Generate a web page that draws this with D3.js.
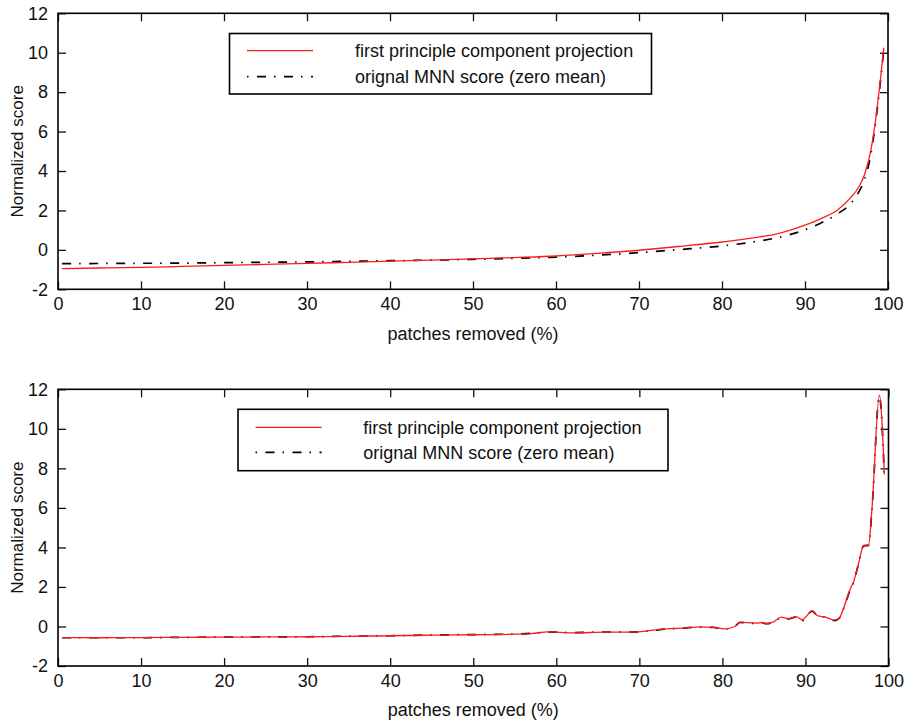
<!DOCTYPE html>
<html>
<head>
<meta charset="utf-8">
<script src="https://cdn.jsdelivr.net/npm/d3@7"></script>
<style>
  html, body { margin: 0; padding: 0; background: #fff; }
  svg { display: block; }
  text { font-family: "Liberation Sans", Arial, Helvetica, sans-serif; fill: #111; }
</style>
</head>
<body>
<svg id="chart" width="908" height="721"></svg>
<script>
// ---------------- data ----------------
const xTicks = [0, 10, 20, 30, 40, 50, 60, 70, 80, 90, 100];
const yTicks = [-2, 0, 2, 4, 6, 8, 10, 12];
const legendLabels = ["first principle component projection", "orignal MNN score (zero mean)"];
const xLabel = "patches removed (%)";
const yLabel = "Normalized score";

// top panel
const topX   = [0.5, 5, 10, 15, 20, 25, 30, 35, 40, 45, 50, 55, 60, 65, 70, 75, 80, 84, 87, 90, 92, 94, 95.5, 96.5, 97.2, 98, 98.6, 99, 99.5];
const topPCA = [-0.95, -0.92, -0.89, -0.84, -0.79, -0.74, -0.69, -0.63, -0.57, -0.52, -0.46, -0.39, -0.31, -0.18, -0.02, 0.18, 0.40, 0.62, 0.85, 1.25, 1.60, 2.05, 2.65, 3.20, 3.85, 5.20, 6.90, 8.30, 10.25];
const topMNN = [-0.70, -0.69, -0.68, -0.67, -0.65, -0.63, -0.61, -0.58, -0.55, -0.52, -0.48, -0.43, -0.37, -0.27, -0.14, 0.02, 0.20, 0.42, 0.65, 1.02, 1.38, 1.85, 2.35, 2.95, 3.60, 5.00, 6.80, 8.20, 10.20];

// bottom panel
const botX   = [0.5, 5, 10, 15, 20, 25, 30, 35, 40, 45, 50, 55, 57, 59, 62, 66, 69, 71, 73.3, 75.3, 77.3, 78.9, 80.3, 81.5, 82.1, 82.9, 84.1, 84.7, 85.3, 86.1, 87.1, 87.9, 88.9, 89.6, 90.1, 90.8, 91.5, 92.3, 93.5, 94.1, 94.9, 95.4, 95.8, 96.4, 97.0, 97.6, 98.0, 98.9, 99.5];
const botPCA = [-0.56, -0.57, -0.56, -0.55, -0.54, -0.53, -0.52, -0.50, -0.47, -0.44, -0.42, -0.39, -0.36, -0.27, -0.32, -0.29, -0.29, -0.22, -0.12, -0.08, -0.02, -0.05, -0.12, 0.00, 0.22, 0.19, 0.17, 0.20, 0.15, 0.22, 0.47, 0.39, 0.50, 0.34, 0.51, 0.80, 0.53, 0.48, 0.32, 0.45, 1.30, 1.90, 2.27, 3.20, 4.10, 4.12, 5.90, 11.70, 7.70];
const botMNN = [-0.57, -0.57, -0.57, -0.55, -0.54, -0.53, -0.52, -0.49, -0.47, -0.43, -0.41, -0.38, -0.35, -0.28, -0.31, -0.28, -0.29, -0.23, -0.13, -0.08, -0.03, -0.05, -0.13, 0.00, 0.20, 0.18, 0.15, 0.19, 0.14, 0.21, 0.45, 0.38, 0.48, 0.28, 0.50, 0.78, 0.52, 0.47, 0.30, 0.43, 1.28, 1.88, 2.25, 3.18, 4.08, 4.10, 5.85, 11.65, 7.60];

// ---------------- drawing ----------------
const svg = d3.select("#chart");
const numFmt = d => (d < 0 ? "-" + Math.abs(d) : String(d));

function drawPanel(cfg) {
  const g = svg.append("g");
  const x = d3.scaleLinear().domain([0, 100]).range([cfg.left, cfg.right]);
  const y = d3.scaleLinear().domain([-2, 12]).range([cfg.bottom, cfg.top]);
  const tickLen = 8;

  const axB = d3.axisBottom(x).tickValues(xTicks).tickSize(-tickLen).tickFormat(numFmt);
  const axT = d3.axisTop(x).tickValues(xTicks).tickSize(-tickLen).tickFormat("");
  const axL = d3.axisLeft(y).tickValues(yTicks).tickSize(-tickLen).tickFormat(numFmt);
  const axR = d3.axisRight(y).tickValues(yTicks).tickSize(-tickLen).tickFormat("");

  const gb = g.append("g").attr("transform", `translate(0,${cfg.bottom})`).call(axB);
  const gt = g.append("g").attr("transform", `translate(0,${cfg.top})`).call(axT);
  const gl = g.append("g").attr("transform", `translate(${cfg.left},0)`).call(axL);
  const gr = g.append("g").attr("transform", `translate(${cfg.right},0)`).call(axR);
  [gb, gt, gl, gr].forEach(a => {
    a.select(".domain").remove();
    a.selectAll(".tick line").attr("stroke", "#111").attr("stroke-width", 1.3);
    a.selectAll(".tick text").attr("font-size", 18).attr("fill", "#111")
      .style("font-family", '"Liberation Sans", Arial, sans-serif');
  });
  gb.selectAll(".tick text").attr("y", 8).attr("dy", "0.71em");
  gl.selectAll(".tick text").attr("x", -10);

  const mk = (xs, ys) => xs.map((v, i) => [v, ys[i]]);
  const line = d3.line().x(d => x(d[0])).y(d => y(d[1])).curve(d3.curveMonotoneX);

  g.append("path").datum(mk(cfg.xs, cfg.mnn))
    .attr("d", line).attr("fill", "none").attr("stroke", "#000")
    .attr("stroke-width", 1.7).attr("stroke-dasharray", "9,8,1.5,8.5");
  g.append("path").datum(mk(cfg.xs, cfg.pca))
    .attr("d", line).attr("fill", "none").attr("stroke", "#ff1a1a")
    .attr("stroke-width", 1.3);

  g.append("rect").attr("x", cfg.left).attr("y", cfg.top)
    .attr("width", cfg.right - cfg.left).attr("height", cfg.bottom - cfg.top)
    .attr("fill", "none").attr("stroke", "#000").attr("stroke-width", 1.6);

  const L = cfg.legend;
  g.append("rect").attr("x", L.x).attr("y", L.y).attr("width", L.w).attr("height", L.h)
    .attr("fill", "#fff").attr("stroke", "#000").attr("stroke-width", 1.6);
  const rows = [
    { label: legendLabels[0], color: "#ff1a1a", dash: null, w: 1.3 },
    { label: legendLabels[1], color: "#000", dash: "1.5,8.5,9,8", w: 1.7 }
  ];
  rows.forEach((r, i) => {
    const yy = L.y + L.row0 + i * L.rowGap;
    g.append("line").attr("x1", L.sx1).attr("x2", L.sx2).attr("y1", yy).attr("y2", yy)
      .attr("stroke", r.color).attr("stroke-width", r.w)
      .attr("stroke-dasharray", r.dash);
    g.append("text").attr("x", L.tx).attr("y", yy).attr("dy", "0.35em")
      .attr("font-size", 18).text(r.label);
  });

  g.append("text").attr("x", (cfg.left + cfg.right) / 2).attr("y", cfg.xLabelY)
    .attr("text-anchor", "middle").attr("dy", "0.35em").attr("font-size", 18).text(xLabel);
  const cy = (cfg.top + cfg.bottom) / 2;
  g.append("text").attr("transform", `translate(17,${cy}) rotate(-90)`)
    .attr("text-anchor", "middle").attr("dy", "0.35em").attr("font-size", 17).text(yLabel);
}

drawPanel({
  left: 58, right: 888, top: 13.3, bottom: 289.3, xLabelY: 334,
  xs: topX, pca: topPCA, mnn: topMNN,
  legend: { x: 229.5, y: 33.5, w: 422, h: 60.5, row0: 17.2, rowGap: 26, sx1: 247, sx2: 313, tx: 355 }
});
drawPanel({
  left: 58, right: 888.5, top: 389.3, bottom: 666, xLabelY: 710,
  xs: botX, pca: botPCA, mnn: botMNN,
  legend: { x: 238, y: 409.3, w: 430, h: 61.4, row0: 18, rowGap: 25, sx1: 255.5, sx2: 321.7, tx: 363.3 }
});
</script>
</body>
</html>
